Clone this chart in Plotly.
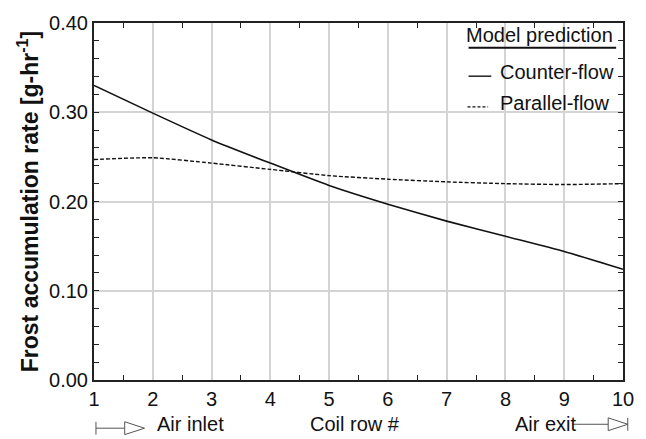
import plotly.graph_objects as go

rows = [1, 2, 3, 4, 5, 6, 7, 8, 9, 10]
counter_flow = [0.330, 0.299, 0.269, 0.243, 0.218, 0.197, 0.178, 0.161, 0.144, 0.124]
parallel_flow = [0.247, 0.249, 0.243, 0.236, 0.229, 0.225, 0.222, 0.220, 0.219, 0.220]
x_ticks = [1, 2, 3, 4, 5, 6, 7, 8, 9, 10]
y_ticks = [0.0, 0.1, 0.2, 0.3, 0.4]
series_names = ["Counter-flow", "Parallel-flow"]
legend_title = "Model prediction"

FONT = "Liberation Sans, Arial, sans-serif"
INK = "#111111"

fig = go.Figure()
fig.add_trace(go.Scatter(x=rows, y=counter_flow, mode="lines", name=series_names[0],
                         line=dict(color=INK, width=1.6, shape="spline", smoothing=0.6)))
fig.add_trace(go.Scatter(x=rows, y=parallel_flow, mode="lines", name=series_names[1],
                         line=dict(color=INK, width=1.4, dash="4px,2px", shape="spline", smoothing=0.6)))

fig.update_layout(
    width=646, height=439,
    margin=dict(l=94, r=18, t=18, b=59),
    paper_bgcolor="white", plot_bgcolor="white",
    font=dict(family=FONT, size=20, color=INK),
    showlegend=False,
)
fig.update_xaxes(
    range=[1, 10], tickvals=x_ticks, ticktext=[str(v) for v in x_ticks],
    showgrid=True, gridcolor="#d4d4d4", gridwidth=1.5,
    showline=True, linecolor="#222222", linewidth=2, mirror="allticks",
    ticks="inside", ticklen=0, tickfont=dict(size=20),
    minor=dict(tickvals=[v + 0.5 for v in x_ticks[:-1]], ticks="inside", ticklen=5,
               tickcolor="#222222", showgrid=False),
    zeroline=False,
)
fig.update_yaxes(
    range=[0, 0.4], tickvals=y_ticks, tickformat=".2f",
    showgrid=True, gridcolor="#d4d4d4", gridwidth=1.5,
    showline=True, linecolor="#222222", linewidth=2, mirror="allticks",
    ticks="inside", ticklen=5, tickcolor="#222222", tickfont=dict(size=20),
    minor=dict(dtick=0.02, ticks="inside", ticklen=5, tickcolor="#222222", showgrid=False),
    zeroline=False,
    title=dict(text="<b>Frost accumulation rate [g-hr<sup>-1</sup>]</b>", font=dict(size=23), standoff=4),
)

# legend (manual, to match layout)
fig.add_annotation(xref="paper", yref="paper", x=0.985, y=0.965, xanchor="right", yanchor="middle",
                   text=legend_title, showarrow=False, font=dict(size=20))
fig.add_shape(type="line", xref="paper", yref="paper", x0=0.708, x1=0.987, y0=0.931, y1=0.931,
              line=dict(color=INK, width=2))
fig.add_annotation(xref="paper", yref="paper", x=0.987, y=0.862, xanchor="right", yanchor="middle",
                   text=series_names[0], showarrow=False, font=dict(size=20))
fig.add_annotation(xref="paper", yref="paper", x=0.977, y=0.776, xanchor="right", yanchor="middle",
                   text=series_names[1], showarrow=False, font=dict(size=20))
fig.add_shape(type="line", xref="paper", yref="paper", x0=0.708, x1=0.751, y0=0.851, y1=0.851,
              line=dict(color=INK, width=1.4))
fig.add_shape(type="line", xref="paper", yref="paper", x0=0.706, x1=0.745, y0=0.765, y1=0.765,
              line=dict(color=INK, width=1.2, dash="3px,2px"))

# bottom labels
fig.add_annotation(xref="paper", yref="paper", x=0.4925, y=-0.124, yanchor="middle",
                   text="Coil row #", showarrow=False, font=dict(size=20))
fig.add_annotation(xref="paper", yref="paper", x=0.116, y=-0.124, xanchor="left", yanchor="middle",
                   text="Air inlet", showarrow=False, font=dict(size=20))
fig.add_annotation(xref="paper", yref="paper", x=0.917, y=-0.124, xanchor="right", yanchor="middle",
                   text="Air exit", showarrow=False, font=dict(size=20))

# arrow glyphs (decorative)
AC = "#555555"
ay = -0.135
th = 0.018
fig.add_shape(type="line", xref="paper", yref="paper", x0=0.0037, x1=0.0037, y0=ay - th, y1=ay + th,
              line=dict(color=AC, width=1))
fig.add_shape(type="line", xref="paper", yref="paper", x0=0.0037, x1=0.058, y0=ay, y1=ay,
              line=dict(color=AC, width=1))
fig.add_shape(type="path", xref="paper", yref="paper",
              path=f"M 0.058 {ay - th} L 0.0955 {ay} L 0.058 {ay + th} Z",
              line=dict(color=AC, width=1), fillcolor="white")
ay2 = -0.124
fig.add_shape(type="line", xref="paper", yref="paper", x0=0.906, x1=0.972, y0=ay2, y1=ay2,
              line=dict(color=AC, width=1))
fig.add_shape(type="path", xref="paper", yref="paper",
              path=f"M 0.972 {ay2 - th} L 1.009 {ay2} L 0.972 {ay2 + th} Z",
              line=dict(color=AC, width=1), fillcolor="white")
fig.add_shape(type="line", xref="paper", yref="paper", x0=1.009, x1=1.009, y0=ay2 - th, y1=ay2 + th,
              line=dict(color=AC, width=1))

fig.write_html("out.html")
